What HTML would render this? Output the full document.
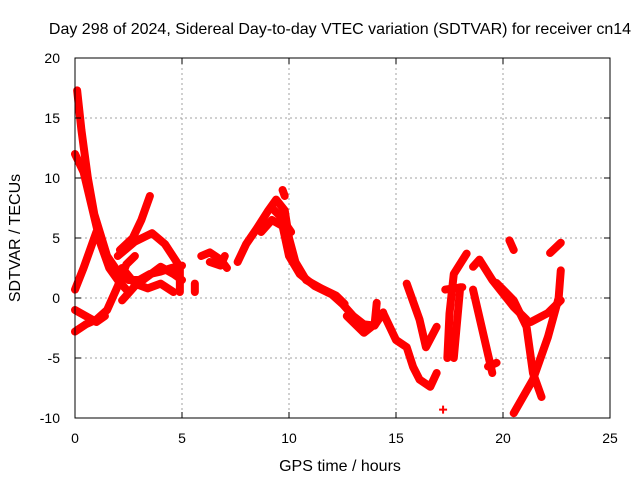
<!DOCTYPE html>
<html><head><meta charset="utf-8"><style>
body{margin:0;background:#fff}
svg{display:block;font-family:"Liberation Sans",sans-serif}
</style></head><body>
<svg id="chart" width="640" height="480">
<rect width="640" height="480" fill="#fff"/>
<text x="340" y="34" font-size="16" text-anchor="middle">Day 298 of 2024, Sidereal Day-to-day VTEC variation (SDTVAR) for receiver cn14</text>
<text x="340" y="471" font-size="16" text-anchor="middle">GPS time / hours</text>
<text transform="translate(20,238) rotate(-90)" font-size="16" text-anchor="middle">SDTVAR / TECUs</text>
<g id="grid"></g>
<g id="marks"></g>
<rect x="75" y="58" width="535" height="360" fill="none" stroke="#000" stroke-width="1"/>
<g id="ticks"></g>
</svg>
<script>
const xTicks=[0,5,10,15,20,25];
const yTicks=[-10,-5,0,5,10,15,20];
const trackA=[[0.1,17.3],[0.3,14],[0.6,10],[0.9,7],[1.5,3.5],[2.0,2.2],[2.5,1.5],[3.0,1.5],[3.5,2],[4.0,2.2],[4.5,2.5],[5.0,2.7]];
const trackB=[[0,12],[0.4,10.5],[0.8,7.5],[1.2,4.5],[1.6,2.5],[2.0,1.5],[2.5,0.5]];
const trackC=[[0,0.7],[0.4,2.5],[0.8,4.5],[1.0,5.5]];
const trackD=[[0,-2.8],[0.5,-2.2],[1.0,-1.8],[1.5,-1],[2.0,1],[2.4,2.8],[2.8,3.5]];
const trackD2=[[0,-1],[0.5,-1.5],[1,-2],[1.4,-1.5]];
const trackE=[[2.1,4],[2.7,5],[3.1,6.5],[3.5,8.5]];
const trackF=[[2.0,3.5],[2.8,4.7],[3.6,5.4],[4.2,4.5],[4.9,2.6],[4.9,0.5]];
const trackG=[[2.2,-0.2],[2.8,1],[3.4,1.8],[4.0,2.6],[4.6,2],[5.0,1.5]];
const trackG2=[[2.2,2.5],[2.8,1.2],[3.4,0.8],[4.0,1.2],[4.6,0.5]];
const blob6=[[5.9,3.5],[6.3,3.8],[6.8,3.2],[7.1,2.5]];
const blob6b=[[5.6,1.2],[5.6,0.5]];
const blob6c=[[6.3,3],[6.8,2.7],[7.0,3.5]];
const trackH=[[7.6,3],[8.0,4.5],[8.5,5.8],[9.0,7.2],[9.4,8.2],[9.8,7.3],[10.0,5],[10.3,3],[10.8,1.5],[11.5,0.8],[12.2,0.2],[12.6,-0.5]];
const trackI=[[8.7,5.5],[9.2,6.5],[9.7,6],[10.0,3.5],[10.5,2],[11.2,1],[12.0,0.3],[12.5,-0.5],[13.0,-1.5],[13.5,-2.2],[14.0,-2.3],[14.4,-1.2]];
const trackI2=[[9.2,7.5],[9.6,6.8],[10.1,5.5]];
const trackI3=[[9.7,9],[9.8,8.5]];
const trackJ=[[12.7,-1.5],[13.5,-2.9],[14.0,-2.2],[14.1,-0.4]];
const trackK=[[14.4,-1.25],[15.0,-3.5],[15.5,-4.1],[15.8,-5.75],[16.1,-6.8],[16.6,-7.4],[16.9,-6.25]];
const trackL=[[15.5,1.2],[16.1,-1.8],[16.4,-4.1],[16.9,-2.4]];
const trackM=[[17.4,-5],[17.5,-1.3],[17.7,2],[18.3,3.7]];
const trackN=[[17.3,0.7],[18.1,0.9]];
const trackN2=[[18.0,0.9],[17.7,-5]];
const trackO=[[18.6,0.7],[19.5,-6.25]];
const trackP=[[18.6,2.6],[18.9,3.2],[19.5,1.5],[20.5,-0.75],[21.1,-1.8]];
const trackQ=[[19.7,1.25],[20.5,-0.2],[21.1,-2.4],[21.4,-6.25],[21.8,-8.25]];
const trackR=[[20.5,-9.6],[21.4,-6.8],[22.1,-3.25],[22.6,0],[22.7,2.3]];
const trackS=[[21.3,-2],[22.1,-1.25],[22.7,-0.2]];
const trackT=[[20.3,4.8],[20.5,4]];
const trackU=[[22.2,3.75],[22.7,4.6]];
const trackV=[[19.7,-5.4],[19.3,-5.7]];
const singlePoint=[[17.2,-9.3]];
const tracks=[trackA,trackB,trackC,trackD,trackD2,trackE,trackF,trackG,trackG2,blob6,blob6b,blob6c,trackH,trackI,trackI2,trackI3,trackJ,trackK,trackL,trackM,trackN,trackN2,trackO,trackP,trackQ,trackR,trackS,trackT,trackU,trackV];

const X0=75,X1=610,Y0=418,Y1=58;
const xs=h=>X0+(h-0)/(25-0)*(X1-X0);
const ys=v=>Y0-(v+10)/(30)*(Y0-Y1);
const NS="http://www.w3.org/2000/svg";
const grid=document.getElementById('grid'),ticks=document.getElementById('ticks'),marks=document.getElementById('marks');
function mk(tag,attrs,parent){const e=document.createElementNS(NS,tag);for(const k in attrs)e.setAttribute(k,attrs[k]);parent.appendChild(e);return e;}
xTicks.forEach(t=>{
  const x=xs(t);
  if(t>0&&t<25){const g=mk('line',{x1:x,x2:x,y1:Y1,y2:Y0,stroke:'#a0a0a0','stroke-dasharray':'2,3'},grid);
  
  }
  mk('line',{x1:x,x2:x,y1:Y0,y2:Y0-6,stroke:'#000'},ticks);
  mk('line',{x1:x,x2:x,y1:Y1,y2:Y1+6,stroke:'#000'},ticks);
  const l=mk('text',{x:x,y:443,'font-size':14,'text-anchor':'middle'},ticks);l.textContent=t;
  
  
});
yTicks.forEach(t=>{
  const y=ys(t);
  if(t>-10&&t<20){const g=mk('line',{x1:X0,x2:X1,y1:y,y2:y,stroke:'#a0a0a0','stroke-dasharray':'2,3'},grid);
  
  }
  mk('line',{x1:X0,x2:X0+6,y1:y,y2:y,stroke:'#000'},ticks);
  mk('line',{x1:X1,x2:X1-6,y1:y,y2:y,stroke:'#000'},ticks);
  const l=mk('text',{x:60,y:y+5,'font-size':14,'text-anchor':'end'},ticks);l.textContent=t;
  
  
});
tracks.forEach(tr=>{
  const p=mk('polyline',{points:tr.map(d=>xs(d[0])+','+ys(d[1])).join(' '),fill:'none',stroke:'#ff0000','stroke-width':8,'stroke-linejoin':'round','stroke-linecap':'round'},marks);
  
  
});
singlePoint.forEach(d=>{
  const x=xs(d[0]),y=ys(d[1]);
  const p=mk('path',{d:`M${x-4},${y}H${x+4}M${x},${y-4}V${y+4}`,stroke:'#ff0000','stroke-width':2},marks);
  
  
});
</script>
</body></html>
